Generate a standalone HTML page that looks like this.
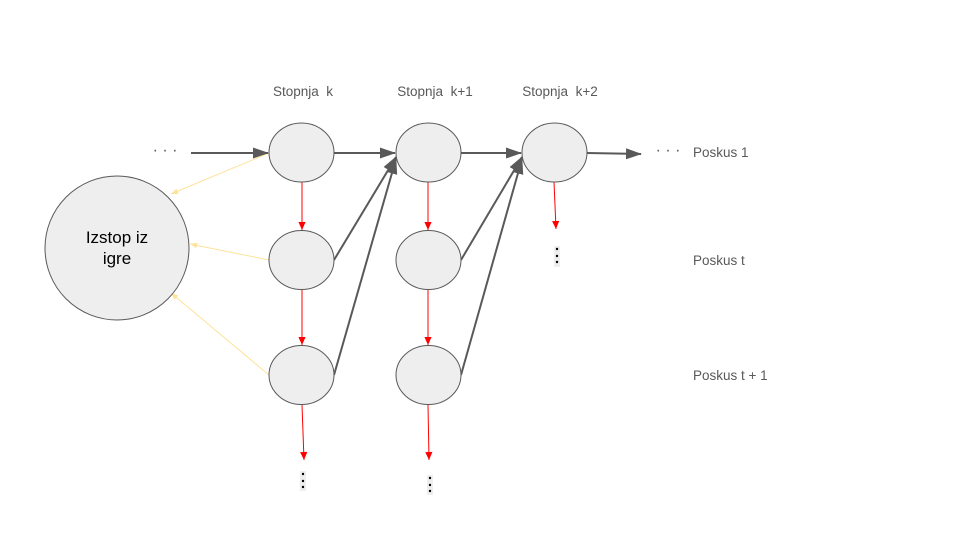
<!DOCTYPE html>
<html><head><meta charset="utf-8"><style>
body{margin:0;background:#fff}
svg{display:block}
text{font-family:"Liberation Sans",sans-serif;white-space:pre}
</style></head><body>
<svg width="960" height="540" viewBox="0 0 960 540">
<defs>
<marker id="ag" viewBox="0 0 16 12" refX="15" refY="6" markerWidth="16" markerHeight="12" orient="auto" markerUnits="userSpaceOnUse"><path d="M0,0.5L16,6L0,11.5z" fill="#595959"/></marker>
<marker id="ar" viewBox="0 0 10 10" refX="10" refY="5" markerWidth="9" markerHeight="8" orient="auto" markerUnits="userSpaceOnUse"><path d="M0,0.5L10,5L0,9.5z" fill="#f00"/></marker>
<marker id="ay" viewBox="0 0 10 10" refX="10" refY="5" markerWidth="8" markerHeight="7" orient="auto" markerUnits="userSpaceOnUse"><path d="M0,1L10,5L0,9z" fill="#fde39a"/></marker>
</defs>
<g fill="#595959" font-size="13.5">
<text x="303" y="96" text-anchor="middle" xml:space="preserve">Stopnja  k</text>
<text x="435" y="96" text-anchor="middle" xml:space="preserve">Stopnja  k+1</text>
<text x="560" y="96" text-anchor="middle" xml:space="preserve">Stopnja  k+2</text>
<text x="693" y="157">Poskus 1</text>
<text x="693" y="265">Poskus t</text>
<text x="693" y="380">Poskus t + 1</text>
<text x="165" y="155" font-size="16" text-anchor="middle">· · ·</text>
<text x="668" y="155" font-size="16" text-anchor="middle">· · ·</text>
</g>
<g stroke="#fde39a" stroke-width="1" fill="none">
<line x1="269" y1="153" x2="171" y2="194" marker-end="url(#ay)"/>
<line x1="269" y1="260" x2="190" y2="244" marker-end="url(#ay)"/>
<line x1="269" y1="375" x2="171" y2="293" marker-end="url(#ay)"/>
</g>
<g stroke="#595959" stroke-width="2" fill="none">
<line x1="191" y1="153" x2="268" y2="153" marker-end="url(#ag)"/>
<line x1="334" y1="153" x2="395" y2="153" marker-end="url(#ag)"/>
<line x1="461" y1="153" x2="521" y2="153" marker-end="url(#ag)"/>
<line x1="587" y1="153" x2="641" y2="154" marker-end="url(#ag)"/>
<line x1="334" y1="260" x2="396" y2="157" marker-end="url(#ag)"/>
<line x1="334" y1="375" x2="396" y2="159" marker-end="url(#ag)"/>
<line x1="461" y1="260" x2="522" y2="157" marker-end="url(#ag)"/>
<line x1="461" y1="375" x2="522" y2="159" marker-end="url(#ag)"/>
</g>
<g stroke="#f00" stroke-width="1" fill="none">
<line x1="302" y1="182" x2="302" y2="230" marker-end="url(#ar)"/>
<line x1="302" y1="290" x2="302" y2="345" marker-end="url(#ar)"/>
<line x1="302" y1="405" x2="304" y2="460" marker-end="url(#ar)"/>
<line x1="428" y1="182" x2="428" y2="230" marker-end="url(#ar)"/>
<line x1="428" y1="290" x2="428" y2="345" marker-end="url(#ar)"/>
<line x1="428" y1="405" x2="429" y2="460" marker-end="url(#ar)"/>
<line x1="554" y1="182" x2="556" y2="229" marker-end="url(#ar)"/>
</g>
<g fill="#eeeeee" stroke="#595959" stroke-width="1">
<ellipse cx="117" cy="248" rx="72" ry="72"/>
<ellipse cx="301.5" cy="152.5" rx="32.5" ry="29.5"/>
<ellipse cx="428.5" cy="152.5" rx="32.5" ry="29.5"/>
<ellipse cx="554.5" cy="152.5" rx="32.5" ry="29.5"/>
<ellipse cx="301.5" cy="260" rx="32.5" ry="29.5"/>
<ellipse cx="428.5" cy="260" rx="32.5" ry="29.5"/>
<ellipse cx="301.5" cy="375" rx="32.5" ry="29.5"/>
<ellipse cx="428.5" cy="375" rx="32.5" ry="29.5"/>
</g>
<g font-size="17" fill="#000" text-anchor="middle">
<text x="117" y="243">Izstop iz</text>
<text x="117" y="264">igre</text>
</g>
<g>
<rect x="300" y="471" width="6" height="20" fill="#eee"/>
<circle cx="303" cy="474" r="1.2" fill="#000"/><circle cx="303" cy="481" r="1.2" fill="#000"/><circle cx="303" cy="487" r="1.2" fill="#000"/>
<rect x="427" y="475" width="6" height="20" fill="#eee"/>
<circle cx="430" cy="478" r="1.2" fill="#000"/><circle cx="430" cy="485" r="1.2" fill="#000"/><circle cx="430" cy="491" r="1.2" fill="#000"/>
<rect x="554" y="246" width="6" height="21" fill="#eee"/>
<circle cx="557" cy="249" r="1.2" fill="#000"/><circle cx="557" cy="256" r="1.2" fill="#000"/><circle cx="557" cy="262" r="1.2" fill="#000"/>
</g>
</svg>
</body></html>
